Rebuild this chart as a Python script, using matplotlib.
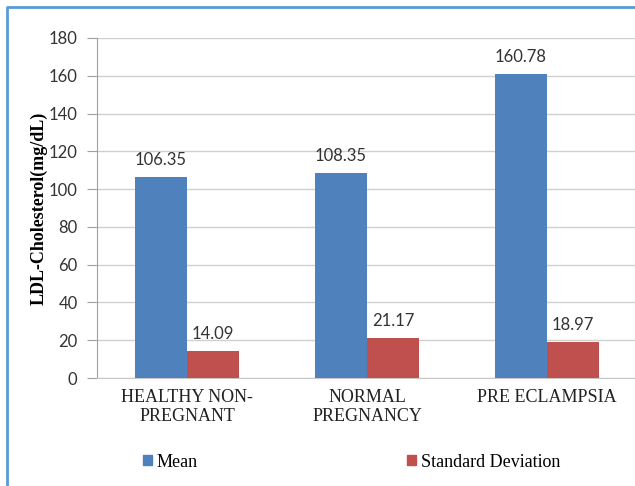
import matplotlib.pyplot as plt
from matplotlib.lines import Line2D
from matplotlib.patches import Rectangle
import numpy as np

groups = ['HEALTHY NON-\nPREGNANT', 'NORMAL\nPREGNANCY', 'PRE ECLAMPSIA']
mean_vals = [106.35, 108.35, 160.78]
sd_vals = [14.09, 21.17, 18.97]
yticks = [0, 20, 40, 60, 80, 100, 120, 140, 160, 180]

BLUE = '#4f81bd'
RED = '#c0504d'
W, H = 635, 486


def main():
  fig = plt.figure(figsize=(W / 100, H / 100), dpi=100)
  ax = fig.add_axes([97 / W, (H - 378) / H, 540 / W, 340 / H])

  x = np.arange(len(groups))
  bw = 0.29
  ax.bar(x - bw / 2, mean_vals, bw, color=BLUE, zorder=3)
  ax.bar(x + bw / 2, sd_vals, bw, color=RED, zorder=3)

  for xi, m, s in zip(x, mean_vals, sd_vals):
    ax.text(xi - bw / 2, m + 5, f'{m:.2f}', ha='center', va='bottom',
            family='Lato', fontsize=12, color='#333333')
    ax.text(xi + bw / 2, s + 5, f'{s:.2f}', ha='center', va='bottom',
            family='Lato', fontsize=12, color='#333333')

  ax.set_xlim(-0.5, 2.5)
  ax.set_ylim(0, 180)
  ax.set_yticks(yticks)
  ax.set_yticklabels([str(t) for t in yticks], family='Lato', fontsize=12,
                     color='#333333')
  ax.tick_params(axis='y', length=7, color='#a0a0a0', pad=7)
  ax.grid(axis='y', color='#d0d0d0', linewidth=1, zorder=0)

  ax.set_xticks(x)
  ax.set_xticklabels(groups, family='Liberation Serif', fontsize=13,
                     color='#222222', linespacing=1.15)
  ax.tick_params(axis='x', length=0, pad=8)

  for side in ['top', 'right']:
    ax.spines[side].set_visible(False)
  ax.spines['left'].set_color('#a0a0a0')
  ax.spines['bottom'].set_color('#c8c8c8')

  ax.set_ylabel('LDL-Cholesterol(mg/dL)', family='Liberation Serif',
                fontsize=13, fontweight='bold', labelpad=1)

  handles = [Rectangle((0, 0), 1, 1, color=BLUE),
             Rectangle((0, 0), 1, 1, color=RED)]
  fig.legend(handles, ['Mean', 'Standard Deviation'], ncol=2,
             loc='center left', bbox_to_anchor=(127 / W, 1 - 462 / H),
             frameon=False, handlelength=0.5, handleheight=0.5,
             handletextpad=0.25, columnspacing=11.6,
             prop={'family': 'Liberation Serif', 'size': 13})

  # outer frame
  fig.add_artist(Line2D([7 / W, 7 / W, 1], [0, 1 - 7.5 / H, 1 - 7.5 / H],
                        transform=fig.transFigure, color='#5b9bd5',
                        linewidth=2))

  fig.savefig('out.png', dpi=100)


if __name__ == '__main__':
  main()
